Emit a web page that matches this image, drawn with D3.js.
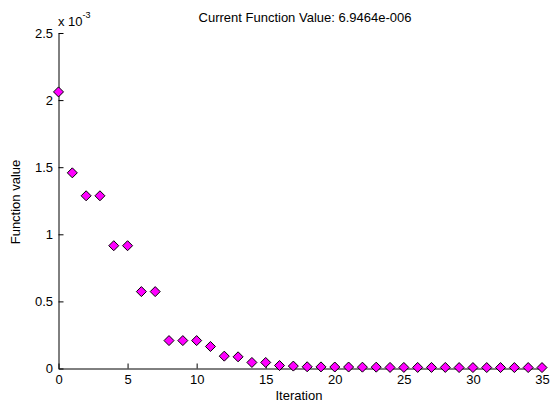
<!DOCTYPE html>
<html>
<head>
<meta charset="utf-8">
<script src="https://cdn.jsdelivr.net/npm/d3@7"></script>
<style>
  body { margin: 0; background: #fff; }
  svg text { font-family: "Liberation Sans", Arial, sans-serif; font-size: 13px; fill: #000; }
</style>
</head>
<body>
<svg id="chart" width="552" height="403"></svg>
<script>
// iteration data, function values in units of 1e-3
var iterations = d3.range(0, 36);
var fvals = [2.061, 1.458, 1.287, 1.287, 0.915, 0.915, 0.573, 0.573, 0.208, 0.208,
             0.208, 0.164, 0.092, 0.087, 0.045, 0.045, 0.022, 0.018, 0.013, 0.012,
             0.011, 0.011, 0.010, 0.010, 0.008, 0.008, 0.008, 0.008, 0.008, 0.007,
             0.007, 0.007, 0.007, 0.007, 0.007, 0.007];
var xTicks = [0, 5, 10, 15, 20, 25, 30, 35];
var yTicks = [0, 0.5, 1, 1.5, 2, 2.5];
var yTickLabels = ["0", "0.5", "1", "1.5", "2", "2.5"];

var svg = d3.select("#chart");

var x = d3.scaleLinear().domain([0, 35]).range([58.5, 542]);
var y = d3.scaleLinear().domain([0, 2.5]).range([368.5, 33]);

// axes, ticks inside
var xAxis = d3.axisBottom(x).tickValues(xTicks).tickSizeInner(-5).tickSizeOuter(0).tickPadding(6.5);
var yAxis = d3.axisLeft(y).tickValues(yTicks).tickSizeInner(-5).tickSizeOuter(0).tickPadding(5.5)
              .tickFormat(function(d, i) { return yTickLabels[i]; });

var gx = svg.append("g").attr("transform", "translate(0," + y(0) + ")").call(xAxis);
var gy = svg.append("g").attr("transform", "translate(" + x(0) + ",0)").call(yAxis);
[gx, gy].forEach(function(g) {
  g.selectAll("path, line").attr("stroke", "#000");
  g.selectAll("text").style("font-size", "13px").style("font-family", "Liberation Sans, Arial, sans-serif");
});

// exponent label
var expo = svg.append("text").attr("x", 58).attr("y", 26);
expo.append("tspan").text("x 10");
expo.append("tspan").attr("dy", -8).style("font-size", "9px").text("-3");

// diamonds
var s = 5;
svg.append("g").selectAll("path")
  .data(iterations)
  .enter().append("path")
  .attr("d", function(d, i) {
    var cx = x(d), cy = y(fvals[i]);
    return "M" + cx + "," + (cy - s) + "L" + (cx + s) + "," + cy + "L" + cx + "," + (cy + s) + "L" + (cx - s) + "," + cy + "Z";
  })
  .attr("fill", "#ff00ff")
  .attr("stroke", "#000")
  .attr("stroke-width", 1);

// titles
svg.append("text").attr("x", 305).attr("y", 22).attr("text-anchor", "middle")
   .text("Current Function Value: 6.9464e-006");
svg.append("text").attr("x", 299).attr("y", 400).attr("text-anchor", "middle").text("Iteration");
svg.append("text").attr("transform", "translate(19.5," + 202 + ") rotate(-90)")
   .attr("text-anchor", "middle").text("Function value");
</script>
</body>
</html>
